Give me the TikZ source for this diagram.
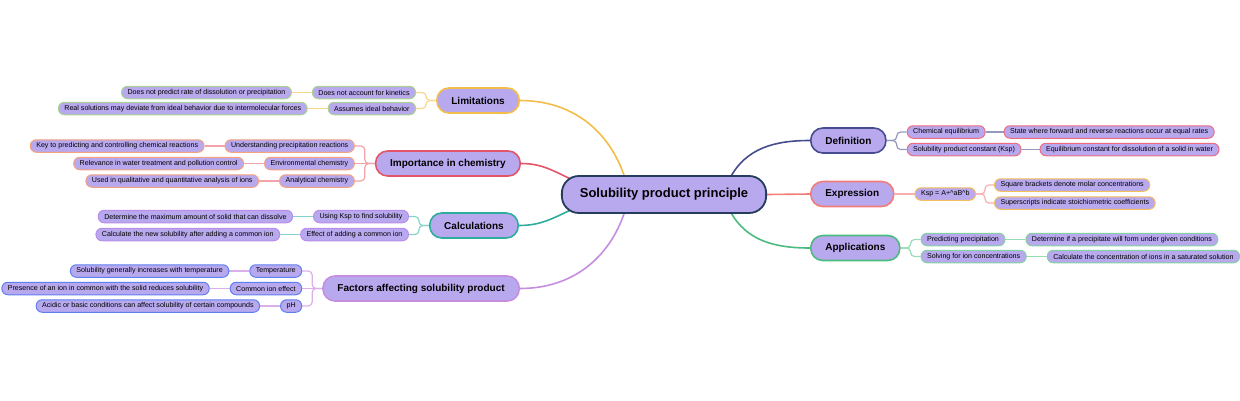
\documentclass[tikz,border=0pt]{standalone}
\usepackage{fontspec}
\setmainfont{Liberation Sans}
\usepackage{tikz}
\usetikzlibrary{calc,positioning,backgrounds}

\definecolor{nodefill}{HTML}{B8A9EF}
\definecolor{rootline}{HTML}{263C5C}
\definecolor{limline}{HTML}{F2BD48}
\definecolor{limsub}{HTML}{A9D58C}
\definecolor{limedge}{HTML}{F6D78C}
\definecolor{impline}{HTML}{E45569}
\definecolor{impsub}{HTML}{F5A27E}
\definecolor{impedge}{HTML}{F2A3AC}
\definecolor{calline}{HTML}{2EAC9E}
\definecolor{calsub}{HTML}{B98DEA}
\definecolor{caledge}{HTML}{86D3CB}
\definecolor{facline}{HTML}{C68EE0}
\definecolor{facsub}{HTML}{5E7FF0}
\definecolor{facedge}{HTML}{DBB0EA}
\definecolor{defline}{HTML}{474C8E}
\definecolor{defsub}{HTML}{EE6B80}
\definecolor{defedge}{HTML}{9599BE}
\definecolor{expline}{HTML}{F27C7A}
\definecolor{expsub}{HTML}{F3BE5C}
\definecolor{expedge}{HTML}{F7AFAE}
\definecolor{appline}{HTML}{4DBA80}
\definecolor{appsub}{HTML}{83D3A0}
\definecolor{appedge}{HTML}{96DBB4}

\begin{document}
\begin{tikzpicture}[x=1pt,y=1pt,
    root/.style={draw=rootline, line width=1.8pt, fill=nodefill, rounded corners=17pt,
      minimum height=37pt, inner xsep=18pt, font=\fontsize{13}{15}\selectfont\bfseries},
    branch/.style={line width=1.6pt, fill=nodefill, rounded corners=12pt,
      minimum height=25pt, inner xsep=14.5pt, font=\fontsize{10}{12}\selectfont\bfseries},
    sub/.style={line width=1pt, fill=nodefill, rounded corners=6pt, minimum height=12.5pt,
      inner ysep=0pt, inner xsep=6pt, font=\fontsize{7.1}{8}\selectfont},
    link/.style={line width=1.2pt, rounded corners=4pt},
    curve/.style={line width=1.6pt},
    node distance=20pt]
  \useasboundingbox (0,0) rectangle (1240,-400);

  % root and main branches
  \node[root] (root) at (664,-194.5) {Solubility product principle};
  \node[branch, draw=limline, anchor=east] (lim) at (520,-100.5) {Limitations};
  \node[branch, draw=impline, anchor=east] (imp) at (521,-163.5) {Importance in chemistry};
  \node[branch, draw=calline, anchor=east] (cal) at (519,-225.5) {Calculations};
  \node[branch, draw=facline, anchor=east] (fac) at (520,-288.5) {Factors affecting solubility product};
  \node[branch, draw=defline, anchor=west] (def) at (810,-140.5) {Definition};
  \node[branch, draw=expline, anchor=west] (exp) at (810,-194) {Expression};
  \node[branch, draw=appline, anchor=west] (app) at (810,-248) {Applications};

  % limitations
  \node[sub, draw=limsub, left=of lim, yshift=8pt] (lim1) {Does not account for kinetics};
  \node[sub, draw=limsub, left=of lim, yshift=-8pt] (lim2) {Assumes ideal behavior};
  \node[sub, draw=limsub, left=of lim1] (lim1a) {Does not predict rate of dissolution or precipitation};
  \node[sub, draw=limsub, left=of lim2] (lim2a) {Real solutions may deviate from ideal behavior due to intermolecular forces};

  % importance
  \node[sub, draw=impsub, left=of imp, yshift=17.5pt] (imp1) {Understanding precipitation reactions};
  \node[sub, draw=impsub, left=of imp] (imp2) {Environmental chemistry};
  \node[sub, draw=impsub, left=of imp, yshift=-17.5pt] (imp3) {Analytical chemistry};
  \node[sub, draw=impsub, left=of imp1] (imp1a) {Key to predicting and controlling chemical reactions};
  \node[sub, draw=impsub, left=of imp2] (imp2a) {Relevance in water treatment and pollution control};
  \node[sub, draw=impsub, left=of imp3] (imp3a) {Used in qualitative and quantitative analysis of ions};

  % calculations
  \node[sub, draw=calsub, left=of cal, yshift=9pt] (cal1) {Using Ksp to find solubility};
  \node[sub, draw=calsub, left=of cal, yshift=-9pt] (cal2) {Effect of adding a common ion};
  \node[sub, draw=calsub, left=of cal1] (cal1a) {Determine the maximum amount of solid that can dissolve};
  \node[sub, draw=calsub, left=of cal2] (cal2a) {Calculate the new solubility after adding a common ion};

  % factors
  \node[sub, draw=facsub, left=of fac, yshift=17.5pt] (fac1) {Temperature};
  \node[sub, draw=facsub, left=of fac] (fac2) {Common ion effect};
  \node[sub, draw=facsub, left=of fac, yshift=-17.5pt] (fac3) {pH};
  \node[sub, draw=facsub, left=of fac1] (fac1a) {Solubility generally increases with temperature};
  \node[sub, draw=facsub, left=of fac2] (fac2a) {Presence of an ion in common with the solid reduces solubility};
  \node[sub, draw=facsub, left=of fac3] (fac3a) {Acidic or basic conditions can affect solubility of certain compounds};

  % definition
  \node[sub, draw=defsub, right=of def, yshift=8.5pt] (def1) {Chemical equilibrium};
  \node[sub, draw=defsub, right=of def, yshift=-9pt] (def2) {Solubility product constant (Ksp)};
  \node[sub, draw=defsub, right=18pt of def1] (def1a) {State where forward and reverse reactions occur at equal rates};
  \node[sub, draw=defsub, right=18pt of def2] (def2a) {Equilibrium constant for dissolution of a solid in water};

  % expression
  \node[sub, draw=expsub, right=of exp] (exp1) {Ksp = A+\textasciicircum aB\textasciicircum b};
  \node[sub, draw=expsub, right=18pt of exp1, yshift=9pt] (exp1a) {Square brackets denote molar concentrations};
  \node[sub, draw=expsub, right=18pt of exp1, yshift=-9pt] (exp1b) {Superscripts indicate stoichiometric coefficients};

  % applications
  \node[sub, draw=appsub, right=of app, yshift=8.5pt] (app1) {Predicting precipitation};
  \node[sub, draw=appsub, right=of app, yshift=-8.5pt] (app2) {Solving for ion concentrations};
  \node[sub, draw=appsub, right=20pt of app1] (app1a) {Determine if a precipitate will form under given conditions};
  \node[sub, draw=appsub, right=20pt of app2] (app2a) {Calculate the concentration of ions in a saturated solution};

  \begin{scope}[on background layer]
    % root to branches
    \draw[curve, limline] (lim.east) to[out=0, in=108] ($(root.north)+(-39,-3)$);
    \draw[curve, impline] (imp.east) to[out=0, in=155] ($(root.north west)+(12,-5)$);
    \draw[curve, calline] (cal.east) to[out=0, in=205] ($(root.south west)+(12,5)$);
    \draw[curve, facline] (fac.east) to[out=0, in=-108] ($(root.south)+(-39,3)$);
    \draw[curve, defline] ($(root.north)+(66,-3)$) to[out=62, in=180] (def.west);
    \draw[curve, expline] (root.east) -- (exp.west);
    \draw[curve, appline] ($(root.south)+(66,3)$) to[out=-62, in=180] (app.west);

    % branches to children
    \draw[link, limedge] (lim.west) -- ++(-10,0) |- (lim1.east);
    \draw[link, limedge] (lim.west) -- ++(-10,0) |- (lim2.east);
    \draw[link, limedge] (lim1.west) -- (lim1a.east);
    \draw[link, limedge] (lim2.west) -- (lim2a.east);

    \draw[link, impedge] (imp.west) -- ++(-10,0) |- (imp1.east);
    \draw[link, impedge] (imp.west) -- (imp2.east);
    \draw[link, impedge] (imp.west) -- ++(-10,0) |- (imp3.east);
    \draw[link, impedge] (imp1.west) -- (imp1a.east);
    \draw[link, impedge] (imp2.west) -- (imp2a.east);
    \draw[link, impedge] (imp3.west) -- (imp3a.east);

    \draw[link, caledge] (cal.west) -- ++(-10,0) |- (cal1.east);
    \draw[link, caledge] (cal.west) -- ++(-10,0) |- (cal2.east);
    \draw[link, caledge] (cal1.west) -- (cal1a.east);
    \draw[link, caledge] (cal2.west) -- (cal2a.east);

    \draw[link, facedge] (fac.west) -- ++(-10,0) |- (fac1.east);
    \draw[link, facedge] (fac.west) -- (fac2.east);
    \draw[link, facedge] (fac.west) -- ++(-10,0) |- (fac3.east);
    \draw[link, facedge] (fac1.west) -- (fac1a.east);
    \draw[link, facedge] (fac2.west) -- (fac2a.east);
    \draw[link, facedge] (fac3.west) -- (fac3a.east);

    \draw[link, defedge] (def.east) -- ++(10,0) |- (def1.west);
    \draw[link, defedge] (def.east) -- ++(10,0) |- (def2.west);
    \draw[link, defedge] (def1.east) -- (def1a.west);
    \draw[link, defedge] (def2.east) -- (def2a.west);

    \draw[link, expedge] (exp.east) -- (exp1.west);
    \draw[link, expedge] (exp1.east) -- ++(9,0) |- (exp1a.west);
    \draw[link, expedge] (exp1.east) -- ++(9,0) |- (exp1b.west);

    \draw[link, appedge] (app.east) -- ++(10,0) |- (app1.west);
    \draw[link, appedge] (app.east) -- ++(10,0) |- (app2.west);
    \draw[link, appedge] (app1.east) -- (app1a.west);
    \draw[link, appedge] (app2.east) -- (app2a.west);
  \end{scope}
\end{tikzpicture}
\end{document}
